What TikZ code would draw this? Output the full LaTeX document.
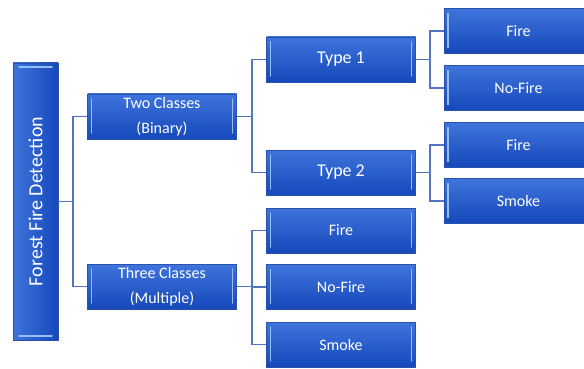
\documentclass[tikz,border=0pt]{standalone}
\usepackage{fontspec}
\setmainfont{Carlito}
\usetikzlibrary{calc}
\definecolor{boxtop}{RGB}{62,116,220}
\definecolor{boxbot}{RGB}{22,72,186}
\definecolor{boxedge}{RGB}{40,82,172}
\definecolor{bevel}{RGB}{150,190,245}
\definecolor{linkblue}{RGB}{82,116,196}
\tikzset{
  blue box/.style={draw=boxedge, line width=0.6pt, top color=boxtop, bottom color=boxbot,
    text=white, font=\fontsize{16}{19}\selectfont, minimum width=149pt, minimum height=45pt,
    inner sep=0pt, align=center,
    path picture={
      \draw[bevel, line width=1.5pt, line cap=round]
        ($(path picture bounding box.north west)+(4pt,-5pt)$) -- ($(path picture bounding box.south west)+(4pt,6pt)$);
      \draw[bevel, line width=1.5pt, line cap=round]
        ($(path picture bounding box.north east)+(-4pt,-5pt)$) -- ($(path picture bounding box.south east)+(-4pt,6pt)$);
    }},
  type box/.style={blue box, font=\fontsize{18}{21}\selectfont},
  root box/.style={draw=boxedge, line width=0.6pt, left color=boxtop, right color=boxbot,
    text=white, font=\fontsize{20}{24}\selectfont, minimum width=45pt, minimum height=277pt,
    inner sep=0pt,
    path picture={
      \draw[bevel, line width=1.5pt, line cap=round]
        ($(path picture bounding box.north west)+(6pt,-4pt)$) -- ($(path picture bounding box.north east)+(-6pt,-4pt)$);
      \draw[bevel, line width=1.5pt, line cap=round]
        ($(path picture bounding box.south west)+(6pt,4pt)$) -- ($(path picture bounding box.south east)+(-6pt,4pt)$);
    }},
  link/.style={draw=linkblue, line width=1.2pt}
}
\begin{document}
\begin{tikzpicture}[x=1pt,y=-1pt]
\clip (0,0) rectangle (584,369);
\useasboundingbox (0,0) rectangle (584,369);
% root and the two groups
\node[root box] (root) at (35.5,201.5) {\rotatebox{90}{Forest Fire Detection}};
\node[blue box] (two) at (162,116.5) {Two Classes\\[6pt](Binary)};
\node[blue box] (three) at (162,286.5) {Three Classes\\[6pt](Multiple)};
% binary branch
\node[type box] (type1) at (341,59.5) {Type 1};
\node[type box] (type2) at (341,172.5) {Type 2};
\node[blue box] (fireA) at (518.5,31) {Fire};
\node[blue box] (nofireA) at (518.5,88) {No-Fire};
\node[blue box] (fireB) at (518.5,145) {Fire};
\node[blue box] (smokeB) at (518.5,201) {Smoke};
% multiple branch
\node[blue box] (fireC) at (341,230.5) {Fire};
\node[blue box] (nofireC) at (341,287) {No-Fire};
\node[blue box] (smokeC) at (341,344.5) {Smoke};
% links
\coordinate (j0) at (73,201.5);
\draw[link] (root.east) -- (j0) |- (two.west);
\draw[link] (j0) |- (three.west);
\coordinate (j1) at (252,116.5);
\draw[link] (two.east) -- (j1) |- (type1.west);
\draw[link] (j1) |- (type2.west);
\coordinate (j2) at (430,59.5);
\draw[link] (type1.east) -- (j2) |- (fireA.west);
\draw[link] (j2) |- (nofireA.west);
\coordinate (j3) at (430,172.5);
\draw[link] (type2.east) -- (j3) |- (fireB.west);
\draw[link] (j3) |- (smokeB.west);
\coordinate (j4) at (252,286.5);
\draw[link] (three.east) -- (j4) |- (fireC.west);
\draw[link] (j4) |- (nofireC.west);
\draw[link] (j4) |- (smokeC.west);
\end{tikzpicture}
\end{document}
